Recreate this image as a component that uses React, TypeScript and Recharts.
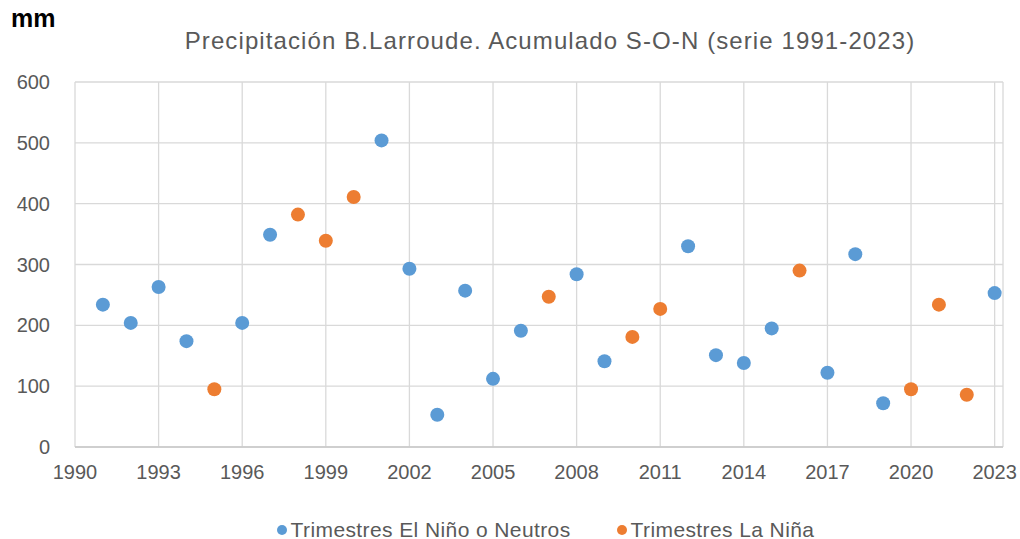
import React from 'react';
import { ScatterChart, Scatter, XAxis, YAxis, CartesianGrid, Legend } from 'recharts';

const ninoYears = [1991, 1992, 1993, 1994, 1996, 1997, 2001, 2002, 2003, 2004, 2005, 2006, 2008, 2009, 2012, 2013, 2014, 2015, 2017, 2018, 2019, 2023];
const ninoValues = [234, 204, 263, 174, 204, 349, 504, 293, 53, 257, 112, 191, 284, 141, 330, 151, 138, 195, 122, 317, 72, 253];
const ninaYears = [1995, 1998, 1999, 2000, 2007, 2010, 2011, 2016, 2020, 2021, 2022];
const ninaValues = [95, 382, 339, 411, 247, 181, 227, 290, 95, 234, 86];
const xTicks = [1990, 1993, 1996, 1999, 2002, 2005, 2008, 2011, 2014, 2017, 2020, 2023];
const yTicks = [0, 100, 200, 300, 400, 500, 600];
const seriesNames = ['Trimestres El Niño o Neutros', 'Trimestres La Niña'];
const titleText = 'Precipitación B.Larroude. Acumulado S-O-N (serie 1991-2023)';
const unitText = 'mm';

const BLUE = '#5B9BD5';
const ORANGE = '#ED7D31';
const GRAY = '#595959';
const FONT = '"Liberation Sans", Arial, sans-serif';

const ninoData = ninoYears.map((y, i) => ({ x: y, y: ninoValues[i] }));
const ninaData = ninaYears.map((y, i) => ({ x: y, y: ninaValues[i] }));

const Dot = (props: any) => <circle cx={props.cx} cy={props.cy} r={7} fill={props.fill} />;

const LegendContent = () => (
  <div style={{ display: 'flex', justifyContent: 'center', alignItems: 'center', fontFamily: FONT, fontSize: 21, letterSpacing: 0.4, color: GRAY, height: 24, paddingLeft: 88 }}>
    {[BLUE, ORANGE].map((c, i) => (
      <div key={i} style={{ display: 'flex', alignItems: 'center', marginRight: i === 0 ? 46 : 0 }}>
        <span style={{ display: 'inline-block', width: 10, height: 10, borderRadius: 5, background: c, marginRight: 4 }} />
        <span>{seriesNames[i]}</span>
      </div>
    ))}
  </div>
);

export default function App() {
  return (
    <div style={{ position: 'absolute', left: 0, top: 0, width: 1020, height: 539, background: '#fff' }}>
      <div style={{ position: 'absolute', left: 11, top: 4, fontFamily: FONT, fontWeight: 'bold', fontSize: 25, color: '#000' }}>{unitText}</div>
      <div style={{ position: 'absolute', left: 0, width: 1100, top: 27, textAlign: 'center', fontFamily: FONT, fontSize: 24, letterSpacing: 1.1, color: GRAY, whiteSpace: 'nowrap' }}>{titleText}</div>
      <ScatterChart width={1020} height={539} margin={{ top: 82, right: 17, bottom: 38, left: 0 }}>
        <CartesianGrid stroke="#d9d9d9" strokeWidth={1.3} />
        <XAxis
          type="number"
          dataKey="x"
          domain={[1990, 2023.3]}
          ticks={xTicks}
          allowDataOverflow
          height={30}
          tickLine={false}
          axisLine={{ stroke: '#c8c8c8', strokeWidth: 1.5 }}
          tick={{ fill: GRAY, fontSize: 20, fontFamily: FONT }}
          tickMargin={12}
        />
        <YAxis
          type="number"
          dataKey="y"
          domain={[0, 600]}
          ticks={yTicks}
          width={75}
          tickLine={false}
          axisLine={false}
          tick={{ fill: GRAY, fontSize: 20, fontFamily: FONT }}
          tickMargin={19}
        />
        <Legend verticalAlign="bottom" content={<LegendContent />} wrapperStyle={{ bottom: -3 }} />
        <Scatter name={seriesNames[0]} data={ninoData} fill={BLUE} shape={<Dot />} isAnimationActive={false} />
        <Scatter name={seriesNames[1]} data={ninaData} fill={ORANGE} shape={<Dot />} isAnimationActive={false} />
      </ScatterChart>
    </div>
  );
}
